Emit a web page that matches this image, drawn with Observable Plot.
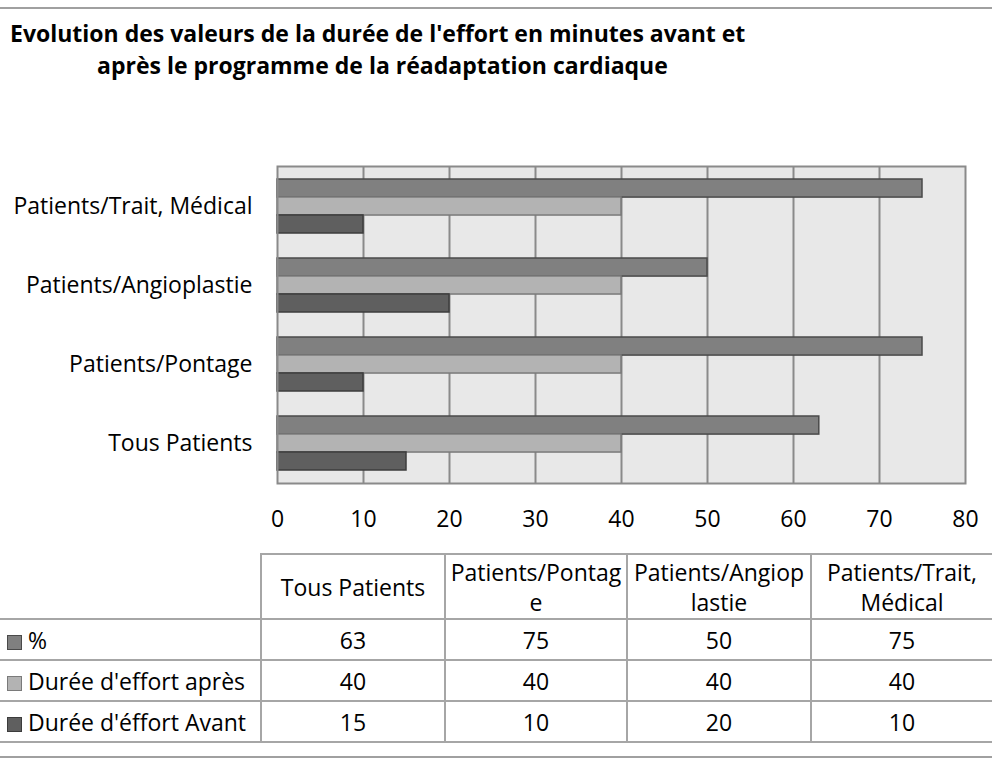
<!DOCTYPE html>
<html>
<head>
<meta charset="utf-8">
<script src="https://cdn.jsdelivr.net/npm/d3@7"></script>
<script src="https://cdn.jsdelivr.net/npm/@observablehq/plot@0.6"></script>
<style>
  html, body { margin: 0; padding: 0; background: #fff; }
  body { width: 992px; height: 759px; position: relative; overflow: hidden; font-family: "Open Sans", sans-serif; color: #000; }
  .hline { position: absolute; left: 0; width: 992px; height: 0; border-top: 2px solid #a0a0a0; }
  #title { position: absolute; left: 10px; top: 17px; font-weight: bold; font-size: 23px; line-height: 32px; white-space: nowrap; }
  #title .l2 { padding-left: 87px; }
  #chart { position: absolute; left: 0; top: 100px; }
  #tbl { position: absolute; left: 0; top: 553px; width: 992px; border-collapse: collapse; table-layout: fixed; font-size: 23px; }
  #tbl td { border: 2px solid #a6a6a6; text-align: center; padding: 0; height: 39px; line-height: 30px; white-space: nowrap; }
  #tbl tr.head td { height: 63px; line-height: 30px; white-space: pre; }
  #tbl td.first { border-left: none; text-align: left; padding-left: 7px; white-space: nowrap; }
  #tbl tr.head td.first { border-top: none; }
  #tbl td.last { border-right: none; }
  .sw { display: inline-block; width: 15px; height: 15px; margin-right: 6px; vertical-align: -1px; box-sizing: border-box; }
</style>
</head>
<body>
<div class="hline" style="top:7px"></div>
<div id="title"><div>Evolution des valeurs de la durée de l'effort en minutes avant et</div><div class="l2">après le programme de la réadaptation cardiaque</div></div>
<div id="chart"></div>
<table id="tbl"></table>
<div class="hline" style="top:756px"></div>
<script>
const categories = ["Tous Patients", "Patients/Pontage", "Patients/Angioplastie", "Patients/Trait, Médical"];
const seriesNames = ["%", "Durée d'effort après", "Durée d'éffort Avant"];
const pctValues = [63, 75, 50, 75];
const apresValues = [40, 40, 40, 40];
const avantValues = [15, 10, 20, 10];
const xTicks = [0, 10, 20, 30, 40, 50, 60, 70, 80];
const tableHeaders = ["Tous Patients", "Patients/Pontag\ne", "Patients/Angiop\nlastie", "Patients/Trait,\nMédical"];
const seriesFill = ["#808080", "#b3b3b3", "#5f5f5f"];
const seriesStroke = ["#4a4a4a", "#7a7a7a", "#3c3c3c"];

const seriesValues = [pctValues, apresValues, avantValues];
const rows = seriesValues.map((vals, s) => categories.map((c, i) => ({category: c, series: seriesNames[s], value: vals[i]})));

const marginTop = 66, marginBottom = 62, height = 445;
const plotH = height - marginTop - marginBottom;
const padInner = 0.32;
const bw = plotH / categories.length * (1 - padInner);
const third = bw / 3;

const chart = Plot.plot({
  width: 992,
  height,
  marginLeft: 277,
  marginRight: 27,
  marginTop,
  marginBottom,
  style: {fontFamily: "'Open Sans', sans-serif", fontSize: "23px", color: "#000", background: "transparent"},
  x: {domain: [0, 80]},
  y: {domain: categories.slice().reverse(), paddingInner: padInner, paddingOuter: padInner / 2},
  marks: [
    Plot.frame({fill: "#e8e8e8", stroke: null}),
    Plot.ruleX(xTicks.slice(1, -1), {stroke: "#8a8a8a", strokeWidth: 2}),
    Plot.barX(rows[0], {x: "value", y: "category", fill: seriesFill[0], stroke: seriesStroke[0], strokeWidth: 1.5, insetTop: 0, insetBottom: 2 * third}),
    Plot.barX(rows[1], {x: "value", y: "category", fill: seriesFill[1], stroke: seriesStroke[1], strokeWidth: 1.5, insetTop: third, insetBottom: third}),
    Plot.barX(rows[2], {x: "value", y: "category", fill: seriesFill[2], stroke: seriesStroke[2], strokeWidth: 1.5, insetTop: 2 * third, insetBottom: 0}),
    Plot.frame({stroke: "#8a8a8a", strokeWidth: 2}),
    Plot.axisX({ticks: xTicks, tickSize: 0, tickPadding: 27, label: null, tickFormat: d => String(d), fontSize: 23}),
    Plot.axisY({tickSize: 0, tickPadding: 25, label: null, fontSize: 23})
  ]
});
document.getElementById("chart").appendChild(chart);

// data table
const colWidths = [261, 184, 182, 184, 181];
const tbl = document.getElementById("tbl");
const cg = document.createElement("colgroup");
colWidths.forEach(w => { const c = document.createElement("col"); c.style.width = w + "px"; cg.appendChild(c); });
tbl.appendChild(cg);
const head = document.createElement("tr");
head.className = "head";
const h0 = document.createElement("td"); h0.className = "first"; head.appendChild(h0);
tableHeaders.forEach((h, i) => { const td = document.createElement("td"); td.textContent = h; if (i === tableHeaders.length - 1) td.className = "last"; head.appendChild(td); });
tbl.appendChild(head);
seriesNames.forEach((name, s) => {
  const tr = document.createElement("tr");
  const td0 = document.createElement("td");
  td0.className = "first";
  const sw = document.createElement("span");
  sw.className = "sw";
  sw.style.background = seriesFill[s];
  sw.style.border = "1px solid " + seriesStroke[s];
  td0.appendChild(sw);
  td0.appendChild(document.createTextNode(name));
  tr.appendChild(td0);
  seriesValues[s].forEach((v, i) => { const td = document.createElement("td"); td.textContent = v; if (i === categories.length - 1) td.className = "last"; tr.appendChild(td); });
  tbl.appendChild(tr);
});
</script>
</body>
</html>
